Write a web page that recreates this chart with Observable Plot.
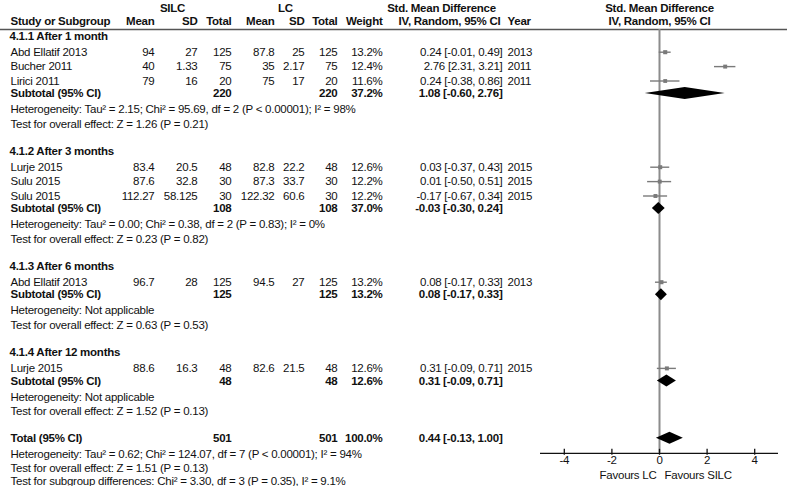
<!DOCTYPE html>
<html><head><meta charset="utf-8">
<script src="https://cdn.jsdelivr.net/npm/d3@7"></script>
<script src="https://cdn.jsdelivr.net/npm/@observablehq/plot@0.6"></script>
<style>
html,body{margin:0;padding:0;background:#fff;}
#chart{width:787px;height:486px;}
</style></head><body><div id="chart"></div>
<script>
// ---------- data ----------
const groups = ["4.1.1 After 1 month","4.1.2 After 3 months","4.1.3 After 6 months","4.1.4 After 12 months"];
const studies = ["Abd Ellatif 2013","Bucher 2011","Lirici 2011","Lurje 2015","Sulu 2015","Sulu 2015","Abd Ellatif 2013","Lurje 2015"];
const groupOf = [0,0,0,1,1,1,2,3];
const silcMean = [94,40,79,83.4,87.6,112.27,96.7,88.6];
const silcSD = [27,1.33,16,20.5,32.8,58.125,28,16.3];
const silcN = [125,75,20,48,30,30,125,48];
const lcMean = [87.8,35,75,82.8,87.3,122.32,94.5,82.6];
const lcSD = [25,2.17,17,22.2,33.7,60.6,27,21.5];
const lcN = [125,75,20,48,30,30,125,48];
const weight = [13.2,12.4,11.6,12.6,12.2,12.2,13.2,12.6];
const smd = [0.24,2.76,0.24,0.03,0.01,-0.17,0.08,0.31];
const ciLo = [-0.01,2.31,-0.38,-0.37,-0.50,-0.67,-0.17,-0.09];
const ciHi = [0.49,3.21,0.86,0.43,0.51,0.34,0.33,0.71];
const year = [2013,2011,2011,2015,2015,2015,2013,2015];

const subSilcN = [220,108,125,48];
const subLcN = [220,108,125,48];
const subWeight = [37.2,37.0,13.2,12.6];
const subSmd = [1.08,-0.03,0.08,0.31];
const subLo = [-0.60,-0.30,-0.17,-0.09];
const subHi = [2.76,0.24,0.33,0.71];
const subHet = [
  "Heterogeneity: Tau² = 2.15; Chi² = 95.69, df = 2 (P < 0.00001); I² = 98%",
  "Heterogeneity: Tau² = 0.00; Chi² = 0.38, df = 2 (P = 0.83); I² = 0%",
  "Heterogeneity: Not applicable",
  "Heterogeneity: Not applicable"];
const subTest = [
  "Test for overall effect: Z = 1.26 (P = 0.21)",
  "Test for overall effect: Z = 0.23 (P = 0.82)",
  "Test for overall effect: Z = 0.63 (P = 0.53)",
  "Test for overall effect: Z = 1.52 (P = 0.13)"];

const totalSilcN = 501, totalLcN = 501, totalWeight = 100.0;
const totalSmd = 0.44, totalLo = -0.13, totalHi = 1.00;
const totalLines = [
  "Heterogeneity: Tau² = 0.62; Chi² = 124.07, df = 7 (P < 0.00001); I² = 94%",
  "Test for overall effect: Z = 1.51 (P = 0.13)",
  "Test for subgroup differences: Chi² = 3.30, df = 3 (P = 0.35), I² = 9.1%"];

const xTicks = [-4,-2,0,2,4];
const xDomain = [-5,5];
const favours = ["Favours LC","Favours SILC"];

// ---------- layout ----------
const W = 787, H = 486;
const cols = {
  group:{px:9, anchor:"start"}, name:{px:10, anchor:"start"},
  sMean:{px:154, anchor:"end"}, sSD:{px:197, anchor:"end"}, sN:{px:231, anchor:"end"},
  lMean:{px:274, anchor:"end"}, lSD:{px:304, anchor:"end"}, lN:{px:337, anchor:"end"},
  wt:{px:382, anchor:"end"}, ci:{px:502, anchor:"end"}, yr:{px:507, anchor:"start"},
  silcH:{px:172, anchor:"middle"}, lcH:{px:285, anchor:"middle"},
  smdH:{px:441, anchor:"middle"}, ivH:{px:449, anchor:"middle"}, plotH:{px:659, anchor:"middle"}
};
const fmtCI = (e,l,h) => `${e.toFixed(2)} [${l.toFixed(2)}, ${h.toFixed(2)}]`;
const cells = [];
const add = (col, y, text, bold=false) => cells.push({col, y, text:String(text), bold});

const headY1 = 8, headY2 = 21, lineY = 29;
add("silcH", headY1, "SILC", true); add("lcH", headY1, "LC", true);
add("smdH", headY1, "Std. Mean Difference", true); add("plotH", headY1, "Std. Mean Difference", true);
add("name", headY2, "Study or Subgroup", true);
add("sMean", headY2, "Mean", true); add("sSD", headY2, "SD", true); add("sN", headY2, "Total", true);
add("lMean", headY2, "Mean", true); add("lSD", headY2, "SD", true); add("lN", headY2, "Total", true);
add("wt", headY2, "Weight", true); add("ivH", headY2, "IV, Random, 95% CI", true);
add("yr", headY2, "Year", true); add("plotH", headY2, "IV, Random, 95% CI", true);

const studyRows = [], diamonds = [];
const DH = 6;
function diamond(id, y, lo, est, hi) {
  diamonds.push({id, x:lo, y1:y, y2:y}, {id, x:est, y1:y-DH, y2:y+DH}, {id, x:hi, y1:y, y2:y});
}
let y = 35.5;
groups.forEach((g, gi) => {
  if (gi > 0) y += 26.8;
  add("group", y, g, true);
  let first = true;
  studies.forEach((s, i) => {
    if (groupOf[i] !== gi) return;
    y += first ? 16.2 : 14.4; first = false;
    add("name", y, s); add("sMean", y, silcMean[i]); add("sSD", y, silcSD[i]); add("sN", y, silcN[i]);
    add("lMean", y, lcMean[i]); add("lSD", y, lcSD[i]); add("lN", y, lcN[i]);
    add("wt", y, weight[i].toFixed(1) + "%"); add("ci", y, fmtCI(smd[i], ciLo[i], ciHi[i])); add("yr", y, year[i]);
    studyRows.push({y, est:smd[i], lo:ciLo[i], hi:ciHi[i], w:weight[i]});
  });
  y += 12.6;
  add("name", y, "Subtotal (95% CI)", true); add("sN", y, subSilcN[gi], true); add("lN", y, subLcN[gi], true);
  add("wt", y, subWeight[gi].toFixed(1) + "%", true); add("ci", y, fmtCI(subSmd[gi], subLo[gi], subHi[gi]), true);
  diamond("g"+gi, y, subLo[gi], subSmd[gi], subHi[gi]);
  y += 16; add("name", y, subHet[gi]);
  y += 14.6; add("name", y, subTest[gi]);
});
y += 26.7;
add("name", y, "Total (95% CI)", true); add("sN", y, totalSilcN, true); add("lN", y, totalLcN, true);
add("wt", y, totalWeight.toFixed(1) + "%", true); add("ci", y, fmtCI(totalSmd, totalLo, totalHi), true);
diamond("total", y, totalLo, totalSmd, totalHi);
const axisY = y + 15;
y += 15.8; add("name", y, totalLines[0]);
y += 14.0; add("name", y, totalLines[1]);
y += 13.5; add("name", y, totalLines[2]);

// text marks per column / weight
const textMarks = [];
for (const [key, c] of Object.entries(cols)) {
  for (const bold of [false, true]) {
    const d = cells.filter(t => t.col === key && t.bold === bold);
    if (!d.length) continue;
    textMarks.push(Plot.text(d, {y:"y", text:"text", frameAnchor:"left", dx:c.px,
      textAnchor:c.anchor, fontWeight: bold ? "bold" : "normal", fill:"#111"}));
  }
}

const grey = "#7a7a7a";
const chart = Plot.plot({
  width: W, height: H,
  marginLeft: 0, marginRight: 0, marginTop: 0, marginBottom: H - axisY,
  x: {domain: xDomain, range: [540, 778]},
  y: {domain: [0, H], range: [0, H], axis: null},
  r: {type: "sqrt", domain: [0, 13.2], range: [0, 2.3]},
  style: {fontFamily: "'Liberation Sans', Arial, sans-serif", fontSize: "11.5px", letterSpacing: "-0.25px", color: "#111", background: "#fff"},
  marks: [
    Plot.ruleY([lineY], {stroke: "#555", strokeWidth: 1.5}),
    Plot.ruleX([0], {y1: () => lineY, y2: () => axisY, stroke: "#8c8c8c", strokeWidth: 2}),
    Plot.ruleY(studyRows, {y: "y", x1: "lo", x2: "hi", stroke: grey, strokeWidth: 1.4}),
    Plot.dot(studyRows, {x: "est", y: "y", r: "w", symbol: "square", fill: grey, stroke: null}),
    Plot.areaY(diamonds, {x: "x", y1: "y1", y2: "y2", z: "id", fill: "#000", curve: "linear"}),
    Plot.ruleY([axisY], {x1: () => xDomain[0], x2: () => xDomain[1], stroke: "#111", strokeWidth: 1.3}),
    Plot.ruleX(xTicks, {x: d => d, y1: () => axisY - 4, y2: () => axisY + 2, stroke: "#111", strokeWidth: 1.3}),
    Plot.axisX({ticks: xTicks, tickSize: 0, tickPadding: 3, label: null, fontSize: 11.5,
      tickFormat: d => (d < 0 ? "-" + Math.abs(d) : String(d))}),
    Plot.text([favours[0]], {x: () => 0, y: () => axisY + 22, text: d => d, textAnchor: "end", dx: -3, fill: "#111"}),
    Plot.text([favours[1]], {x: () => 0, y: () => axisY + 22, text: d => d, textAnchor: "start", dx: 5, fill: "#111"}),
    ...textMarks
  ]
});
document.getElementById("chart").appendChild(chart);
</script>
</body></html>
